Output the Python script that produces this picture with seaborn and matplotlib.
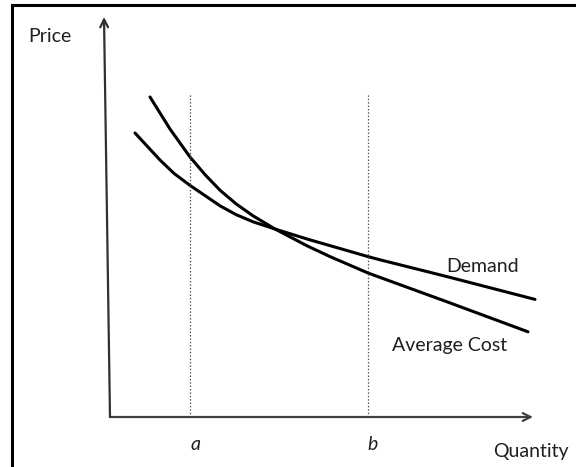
import pandas as pd
import numpy as np
import matplotlib
matplotlib.use("Agg")
import matplotlib.pyplot as plt
import seaborn as sns
from matplotlib.patches import Rectangle

# Values (quantity, price) in arbitrary units
ac_qty = [1.0, 1.5, 2.0, 2.375, 2.75, 3.15, 3.575, 4.125, 4.925, 5.5, 6.45, 6.75, 8.425, 10.45]
ac_price = [8.0, 7.2, 6.5, 6.06, 5.67, 5.33, 5.03, 4.70, 4.28, 4.01, 3.6, 3.49, 2.88, 2.13]

dem_qty = [0.625, 1.25, 1.6, 2.0, 2.75, 3.15, 3.575, 4.125, 4.925, 6.45, 6.75, 8.425, 10.625]
dem_price = [7.1, 6.425, 6.09, 5.79, 5.28, 5.06, 4.88, 4.70, 4.45, 4.01, 3.93, 3.51, 2.94]

guide_qty = [2.0, 6.45]
guide_labels = ["a", "b"]
guide_top = 8.075

x_axis_end = 10.575
y_axis_end = 10.0

curves = pd.concat([
    pd.DataFrame({"Quantity": ac_qty, "Price": ac_price, "Curve": "Average Cost"}),
    pd.DataFrame({"Quantity": dem_qty, "Price": dem_price, "Curve": "Demand"}),
])

sns.set_theme(style="white")
plt.rcParams["font.family"] = ["Lato", "DejaVu Sans"]

fig = plt.figure(figsize=(5.76, 4.67), dpi=100)
ax = fig.add_axes([0, 0, 1, 1])
ax.set_xlim(-2.75, 11.65)
ax.set_ylim(-1.25, 10.425)

sns.lineplot(data=curves, x="Quantity", y="Price", units="Curve", estimator=None,
             color="black", linewidth=2.2, sort=False, legend=False, ax=ax)

# dotted guides at a and b
for q in guide_qty:
    ax.plot([q, q], [0, guide_top], color="#555555", linestyle=(0, (1.2, 1.5)), linewidth=0.9)

# axes with arrows
ax.annotate("", xy=(x_axis_end, 0), xytext=(0, 0),
            arrowprops=dict(arrowstyle="->", color="#404040", lw=1.6,
                            shrinkA=0, shrinkB=0, mutation_scale=14))
ax.annotate("", xy=(-0.15, y_axis_end), xytext=(0, 0),
            arrowprops=dict(arrowstyle="->", color="#303030", lw=1.6,
                            shrinkA=0, shrinkB=0, mutation_scale=14))

txt_color = "#1f1f1f"
ax.text(-1.5, 9.525, "Price", fontsize=14, color=txt_color, ha="center", va="center")
ax.text(10.525, -0.875, "Quantity", fontsize=14, color=txt_color, ha="center", va="center")
ax.text(9.325, 3.75, "Demand", fontsize=14, color=txt_color, ha="center", va="center")
ax.text(8.5, 1.8, "Average Cost", fontsize=14, color=txt_color, ha="center", va="center")
for q, lab in zip([2.15, 6.575], guide_labels):
    ax.text(q, -0.7, lab, fontsize=14, style="italic", color=txt_color, ha="center", va="center")

ax.set_axis_off()

# picture frame (only top and left edges fall inside the image)
fig.add_artist(Rectangle((12 / 576, -0.1), 2, 1 - 5 / 467 + 0.1, transform=fig.transFigure,
                         fill=False, edgecolor="black", linewidth=2.2))

fig.savefig("out.png", dpi=100)
